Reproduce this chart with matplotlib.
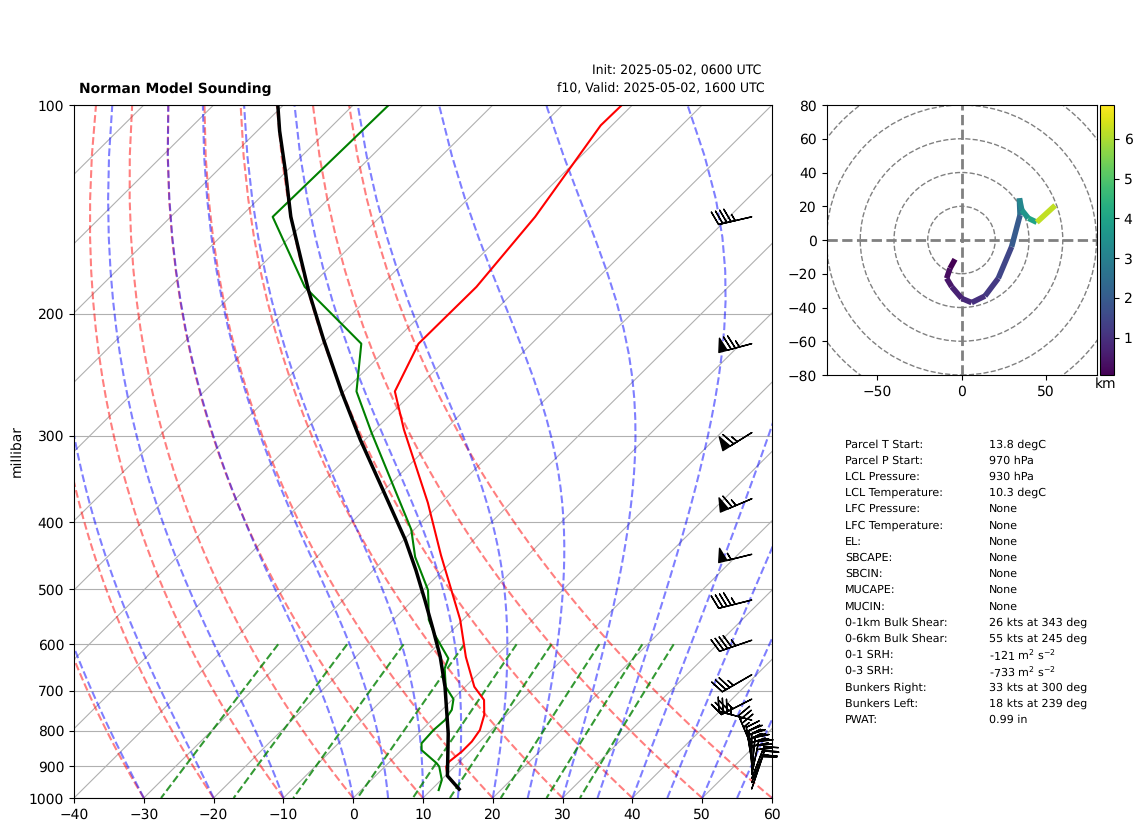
import numpy as np
import matplotlib
matplotlib.use('Agg')
import matplotlib.pyplot as plt
from matplotlib.collections import LineCollection
from matplotlib.colors import Normalize
from matplotlib.patches import Circle
from matplotlib.ticker import FixedLocator, NullLocator, ScalarFormatter
from matplotlib.transforms import Affine2D

plt.rcParams['text.hinting'] = 'no_hinting'

W, H = 1142, 832

# Sounding profiles
t_p = [100, 107, 145, 183, 221, 259, 294, 375, 446, 553, 626, 691, 722, 759, 798, 829, 857, 886, 901, 929, 971]
t_c = [-61.5, -61.6, -57.8, -56.1, -56.2, -52.7, -45.9, -31.9, -22.5, -10.4, -4.2, 1.3, 4.6, 6.8, 8.35, 8.85, 8.86, 8.5, 8.8, 10.3, 13.9]

td_p = [100, 145, 183, 221, 259, 297, 410, 449, 501, 518, 553, 582, 629, 650, 691, 720, 746, 772, 798, 834, 853, 891, 901, 942, 974]
td_c = [-94.9, -95.4, -80.7, -64.4, -58.2, -50.1, -30.4, -25.9, -19.3, -17.8, -14.9, -11.8, -6.5, -5.6, -2.8, 0.1, 1.4, 1.9, 1.7, 1.9, 2.9, 6.95, 7.8, 10.1, 11.1]

parcel_p = [100, 109, 125, 145, 185, 218, 261, 304, 353, 424, 469, 518, 572, 625, 691, 807, 929, 971]
parcel_c = [-110.8, -106.8, -100, -92.8, -79.7, -70.4, -59.9, -50.7, -41.3, -29.8, -23.9, -18.3, -12.8, -7.95, -2.9, 4.3, 10.3, 13.9]

# Wind barbs (knots)
barb_p = [145, 221, 297, 370, 445, 518, 592, 664, 720, 772, 844, 884, 895, 905, 915, 925, 937, 950, 970]
barb_u = [43.8, 72.4, 55.1, 59.8, 53.4, 43.7, 42.5, 30.3, 31.2, 33.8, 13.9, 6.0, 3.0, 0.1, -3.0, -5.8, -8.8, -6.8, -3.85]
barb_v = [10.1, 19.4, 34.4, 25.4, 13.3, 10.9, 14.6, 17.5, 15.9, -9.0, -33.2, -37.1, -36.0, -34.6, -31.0, -27.7, -22.7, -16.8, -11.4]

# Hodograph (knots, km)
hodo_u = [-3.85, -6.8, -8.8, -5.8, 0.1, 6.0, 13.9, 21.8, 29.7, 34.7, 34.3, 35.7, 39.6, 44.6, 55.5]
hodo_v = [-11.4, -16.8, -22.7, -27.7, -34.6, -37.1, -33.2, -22.7, -4.0, 14.8, 24.7, 17.8, 12.9, 10.5, 20.5]
hodo_h = [0.07, 0.3, 0.5, 0.7, 0.85, 1.0, 1.2, 1.5, 2.0, 2.6, 3.2, 3.6, 4.0, 6.2, 6.85]

# Table of indices
index_names = ['Parcel T Start:', 'Parcel P Start:', 'LCL Pressure:', 'LCL Temperature:', 'LFC Pressure:',
               'LFC Temperature:', 'EL:', 'SBCAPE:', 'SBCIN:', 'MUCAPE:', 'MUCIN:', '0-1km Bulk Shear:',
               '0-6km Bulk Shear:', '0-1 SRH:', '0-3 SRH:', 'Bunkers Right:', 'Bunkers Left:', 'PWAT:']
index_values = ['13.8 degC', '970 hPa', '930 hPa', '10.3 degC', 'None', 'None', 'None', 'None', 'None', 'None',
                'None', '26 kts at 343 deg', '55 kts at 245 deg', r'-121 m$^{2}$ s$^{-2}$', r'-733 m$^{2}$ s$^{-2}$',
                '33 kts at 300 deg', '18 kts at 239 deg', '0.99 in']

# Background line starting temperatures
dry_t0 = np.arange(-40, 61, 10)
moist_t0 = np.concatenate((np.arange(-40, 0, 10), np.arange(0, 61, 5)))
mixing_w = [0.0004, 0.001, 0.002, 0.004, 0.007, 0.01, 0.016, 0.024, 0.032]


def moist_lines(t0_c, pres):
    # integrate the saturated lapse rate upward from the first pressure
    Rd, cp, Lv, eps = 287.05, 1005.0, 2.501e6, 0.622
    temp = np.asarray(t0_c, dtype=float) + 273.15
    out = [temp.copy()]
    for p0, p1 in zip(pres[:-1], pres[1:]):
        lnp = np.linspace(np.log(p0), np.log(p1), 11)
        for i in range(10):
            es = 6.112 * np.exp(17.67 * (temp - 273.15) / (temp - 29.65))
            rs = eps * es / (np.exp(lnp[i]) - es)
            rate = (Rd * temp + Lv * rs) / (cp + Lv ** 2 * rs * eps / (Rd * temp ** 2))
            temp = temp + rate * (lnp[i + 1] - lnp[i])
        out.append(temp.copy())
    return np.array(out) - 273.15


def px_text(x, y, s, **kw):
    return fig.text(x / W, 1 - y / H, s, **kw)


fig = plt.figure(figsize=(W / 100, H / 100), dpi=100)

# Skew-T panel
ax = fig.add_axes([74 / W, 1 - 798 / H, 698 / W, 693 / H])
ax.set_yscale('log')
ax.set_xlim(-40, 60)
ax.set_ylim(1000, 100)
ax.set_autoscale_on(False)
skew = ax.transScale + ax.transLimits + Affine2D().skew_deg(45, 0) + ax.transAxes

ax.yaxis.set_major_locator(FixedLocator(np.arange(100, 1001, 100)))
ax.yaxis.set_major_formatter(ScalarFormatter())
ax.yaxis.set_minor_locator(NullLocator())
ax.set_xticks(np.arange(-40, 61, 10))
ax.yaxis.grid(True)
ax.set_ylabel('millibar')
ax.yaxis.set_label_coords(-0.072, 0.5)

for t in np.arange(-150, 61, 10):
    ax.plot([t, t], [1000, 100], color='#b0b0b0', lw=0.8, transform=skew, zorder=1)

pres = np.linspace(1000, 100, 50)
for t0 in dry_t0:
    ax.plot((t0 + 273.15) * (pres / 1000) ** 0.2857 - 273.15, pres, 'r--', lw=1.5, alpha=0.5, transform=skew)
moist = moist_lines(moist_t0, pres)
for k in range(len(moist_t0)):
    ax.plot(moist[:, k], pres, 'b--', lw=1.5, alpha=0.5, transform=skew)
pres_mix = np.linspace(600, 1000, 50)
for w in mixing_w:
    vap = w * pres_mix / (0.622 + w)
    lg = np.log(vap / 6.112)
    ax.plot(243.5 * lg / (17.67 - lg), pres_mix, 'g--', lw=1.5, alpha=0.8, transform=skew)

ax.plot(t_c, t_p, 'r', lw=1.5, transform=skew)
ax.plot(td_c, td_p, 'g', lw=1.5, transform=skew)
ax.plot(parcel_c, parcel_p, 'k', lw=2.5, transform=skew)

ax.barbs(np.full(len(barb_p), 0.971), barb_p, barb_u, barb_v, pivot='tip', length=7, clip_on=False,
         transform=ax.get_yaxis_transform(), zorder=5)

px_text(79, 89, 'Norman Model Sounding', fontweight='bold', fontsize=10, va='center')
px_text(592, 71, 'Init: 2025-05-02, 0600 UTC', fontsize=9, va='center')
px_text(557, 89, 'f10, Valid: 2025-05-02, 1600 UTC', fontsize=9, va='center')

# Hodograph panel
hax = fig.add_axes([826.5 / W, 1 - 375 / H, 270 / W, 270 / H])
hax.set_xlim(-80, 80)
hax.set_ylim(-80, 80)
hax.set_xticks([-50, 0, 50])
hax.set_yticks(np.arange(-80, 81, 20))
for r in range(20, 101, 20):
    hax.add_patch(Circle((0, 0), r, fill=False, ec='grey', ls='--', lw=1))
hax.axhline(0, color='grey', ls='--', lw=2)
hax.axvline(0, color='grey', ls='--', lw=2)

pts = np.column_stack([hodo_u, hodo_v])
segs = np.stack([pts[:-1], pts[1:]], axis=1)
lc = LineCollection(segs, cmap='viridis', norm=Normalize(0.07, 6.85), lw=4, zorder=3)
lc.set_array(np.array(hodo_h[:-1]))
hax.add_collection(lc)

cax = fig.add_axes([1100 / W, 1 - 375 / H, 14 / W, 270 / H])
cb = fig.colorbar(lc, cax=cax)
cb.set_ticks([1, 2, 3, 4, 5, 6])
px_text(1106, 384, 'km', ha='center', va='center', fontsize=10)

# Index table
for i, (name, val) in enumerate(zip(index_names, index_values)):
    y = 444.5 + i * 16.2
    px_text(845, y, name, fontsize=8, va='center')
    px_text(989, y, val, fontsize=8, va='center')

fig.savefig('out.png', dpi=100)
